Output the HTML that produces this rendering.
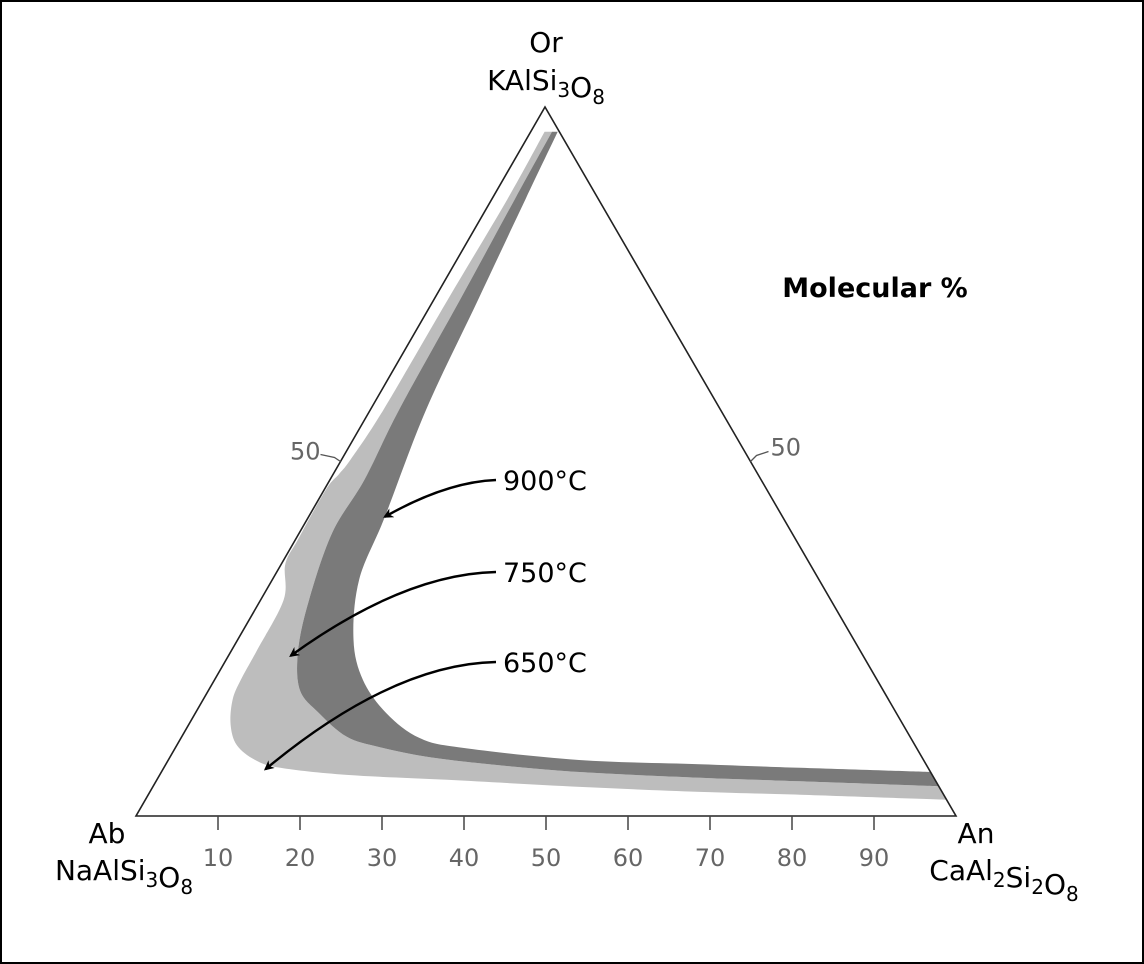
<!DOCTYPE html>
<html><head><meta charset="utf-8">
<style>
html,body{margin:0;padding:0;background:#fff;}
#frame{position:relative;width:1140px;height:960px;border:2px solid #000;overflow:hidden;}
svg text{font-family:"DejaVu Sans","Liberation Sans",sans-serif;}
</style></head>
<body>
<div id="frame">
<svg id="chart" width="1140" height="960" viewBox="2 2 1140 960"></svg>
</div>
<script>
// ternary data: [An %, Or %]
const curve900 = [[3.3,96.5],[4.1,87.0],[5.4,72.9],[6.8,57.3],[9.3,42.2],[10.6,33.3],[14.1,24.9],[18.1,19.2],[23.3,14.5],[29.1,11.0],[35.1,9.6],[50.1,7.9],[65.1,7.3],[77.6,6.8],[93.8,6.2]];
const curve750 = [[2.6,96.5],[2.8,87.0],[3.2,72.9],[3.5,57.3],[4.2,47.5],[4.0,40.0],[5.9,30.5],[8.1,23.4],[11.1,17.8],[15.1,14.5],[20.1,11.2],[24.9,9.7],[31.7,8.3],[40.4,7.2],[51.0,6.2],[66.1,5.4],[78.5,4.9],[95.8,4.2]];
const curve650 = [[1.7,96.5],[1.9,87.0],[1.7,72.9],[1.6,57.3],[1.1,50.3],[0.7,48.2],[0.2,46.0],[0.3,39.0],[0.5,35.5],[2.8,30.5],[3.1,23.4],[3.2,19.2],[3.6,16.4],[5.1,12.9],[7.3,10.0],[10.6,7.9],[14.2,6.8],[22.8,5.8],[35.4,5.1],[52.1,4.1],[67.1,3.4],[79.5,3.0],[97.7,2.3]];
const tickValues = [10,20,30,40,50,60,70,80,90];
const tickLabels = ["10","20","30","40","50","60","70","80","90"];
const tempLabels = ["900°C","750°C","650°C"];
const arrowTargets = [[9.3,42.2],[7.6,22.6],[12.5,6.6]]; // An, Or where arrows point

const svg = document.getElementById('chart');
const NS = 'http://www.w3.org/2000/svg';
const AB = [136,816], AN = [956,816], OR = [545,107];
function tern(an, or){ // returns pixel
  const ab = 100-an-or;
  return [(AB[0]*ab + AN[0]*an + OR[0]*or)/100, (AB[1]*ab + AN[1]*an + OR[1]*or)/100];
}
function mk(tag, attrs, parent){
  const e = document.createElementNS(NS, tag);
  for (const k in attrs) e.setAttribute(k, attrs[k]);
  (parent||svg).appendChild(e); return e;
}
function smooth(pts){
  let d = 'M'+pts[0][0].toFixed(1)+','+pts[0][1].toFixed(1);
  for (let i=0;i<pts.length-1;i++){
    const p0=pts[Math.max(0,i-1)], p1=pts[i], p2=pts[i+1], p3=pts[Math.min(pts.length-1,i+2)];
    const c1=[p1[0]+(p2[0]-p0[0])/6, p1[1]+(p2[1]-p0[1])/6];
    const c2=[p2[0]-(p3[0]-p1[0])/6, p2[1]-(p3[1]-p1[1])/6];
    d+=' C'+c1[0].toFixed(1)+','+c1[1].toFixed(1)+' '+c2[0].toFixed(1)+','+c2[1].toFixed(1)+' '+p2[0].toFixed(1)+','+p2[1].toFixed(1);
  }
  return d;
}
function smoothRev(pts){ return smooth(pts.slice().reverse()).replace(/^M/,' L'); }
const p900 = curve900.map(p=>tern(p[0],p[1]));
const p750 = curve750.map(p=>tern(p[0],p[1]));
const p650 = curve650.map(p=>tern(p[0],p[1]));

const light = mk('path',{d: smooth(p650) + smoothRev(p750) + ' Z', fill:'#bdbdbd'});


const dark = mk('path',{d: smooth(p750) + smoothRev(p900) + ' Z', fill:'#7a7a7a'});



const tri = mk('polygon',{points: [AB,AN,OR].map(p=>p.join(',')).join(' '), fill:'none', stroke:'#222', 'stroke-width':1.6});



tickValues.forEach((v,i)=>{
  const p = tern(v,0);
  const t = mk('line',{x1:p[0],y1:p[1],x2:p[0],y2:p[1]+14,stroke:'#444','stroke-width':1.5});
  
  
  const l = mk('text',{x:p[0],y:p[1]+50,'text-anchor':'middle','font-size':24,fill:'#666'});
  l.textContent = tickLabels[i];
  
  
});
// side 50 labels
const lp = tern(0,50), rp = tern(50,50);
const lt = mk('path',{d:`M${lp[0]},${lp[1]} l-6,-4 l-14,-3`,fill:'none',stroke:'#555','stroke-width':1.3});


const ll = mk('text',{x:lp[0]-20,y:lp[1]-2,'text-anchor':'end','font-size':24,fill:'#666'});
ll.textContent='50';


const rt = mk('path',{d:`M${rp[0]},${rp[1]} l6,-6 l12,-4`,fill:'none',stroke:'#555','stroke-width':1.3});


const rl = mk('text',{x:rp[0]+20,y:rp[1]-6,'text-anchor':'start','font-size':24,fill:'#666'});
rl.textContent='50';



// arrows
const defs = mk('defs',{});
const mrk = mk('marker',{id:'ah',markerWidth:10,markerHeight:10,refX:8,refY:5,orient:'auto',markerUnits:'userSpaceOnUse'},defs);
mk('path',{d:'M0,0 L10,5 L0,10 L3,5 Z',fill:'#000'},mrk);
const labelY = [480,572,662];
tempLabels.forEach((s,i)=>{
  const tgt = tern(arrowTargets[i][0], arrowTargets[i][1]);
  const sx = 496, sy = labelY[i];
  const cx = sx - (sx-tgt[0])*0.45, cy = sy + 2;
  const a = mk('path',{d:`M${sx},${sy} Q${cx},${cy} ${tgt[0]},${tgt[1]}`,fill:'none',stroke:'#000','stroke-width':2.4,'marker-end':'url(#ah)'});
  
  
  const t = mk('text',{x:503,y:sy+10,'font-size':27,fill:'#000'});
  t.textContent = s;
  
  
});

function label(x,y,html,anchor,name,size,weight){
  const t = mk('text',{x:x,y:y,'text-anchor':anchor,'font-size':size||28,fill:'#000','font-weight':weight||'normal'});
  t.innerHTML = html;
  
  
}
const sub = s=>`<tspan font-size="20" dy="7">${s}</tspan><tspan dy="-7"></tspan>`;
label(546,52,'Or','middle','or-label');
label(546,90,'KAlSi'+sub('3')+'O'+sub('8'),'middle','or-formula');
label(107,843,'Ab','middle','ab-label');
label(124,880,'NaAlSi'+sub('3')+'O'+sub('8'),'middle','ab-formula');
label(976,843,'An','middle','an-label');
label(1004,880,'CaAl'+sub('2')+'Si'+sub('2')+'O'+sub('8'),'middle','an-formula');
label(875,297,'Molecular %','middle','units-title',27,'bold');
</script>
</body></html>
